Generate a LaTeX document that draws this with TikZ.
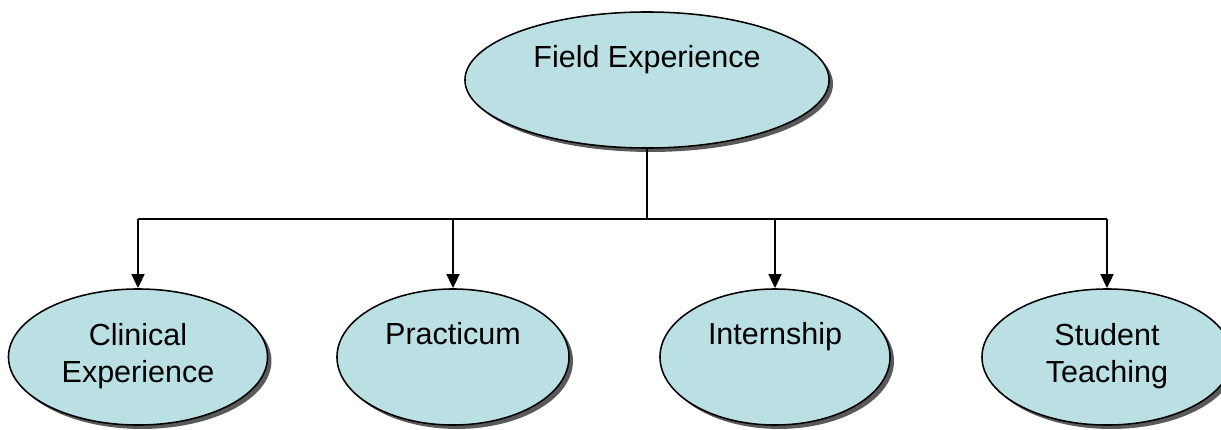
\documentclass[tikz,border=0pt]{standalone}
\usepackage{fontspec}
\setmainfont{Liberation Sans}
\usepackage{tikz}
\usetikzlibrary{arrows.meta,positioning,shadows,shapes.geometric,calc}
\definecolor{ovalfill}{RGB}{187,224,227}
\definecolor{ovalshadow}{RGB}{90,90,90}

\tikzset{
  oval/.style={ellipse,draw=black,line width=1.1pt,fill=ovalfill,minimum height=3.4cm,
    drop shadow={shadow xshift=2.8pt,shadow yshift=-2.8pt,fill=ovalshadow,opacity=1}},
  ovaltext/.style={align=center,font=\fontsize{21.7}{26.5}\selectfont},
  link/.style={line width=1.9pt},
  arr/.style={link,-{Triangle[length=10pt,width=9pt]}}
}

\begin{document}
\begin{tikzpicture}[x=0.025cm,y=0.025cm]
\useasboundingbox (0,0) rectangle (1221,429);
% top oval
\node[oval,minimum width=9.1cm] (fe) at (647,349) {};
\node[ovaltext,anchor=base] (fetxt) at (647,361) {Field Experience};
% bottom ovals
\node[oval,minimum width=6.475cm] (ce) at (138,72) {};
\node[oval,minimum width=5.8cm] (pr) at (453,72) {};
\node[oval,minimum width=5.75cm] (in) at (775,72) {};
\node[oval,minimum width=6.25cm] (st) at (1107,72) {};
\node[ovaltext] (cetxt) at (138,73) {Clinical\\Experience};
\node[ovaltext,anchor=base] (prtxt) at (453,85) {Practicum};
\node[ovaltext,anchor=base] (intxt) at (775,85) {Internship};
\node[ovaltext] (sttxt) at (1107,73) {Student\\Teaching};
% connectors
\coordinate (bus) at (647,210);
\draw[link] (fe.south) -- (bus);
\draw[link] (ce.north |- bus) -- (st.north |- bus);
\draw[arr] (ce.north |- bus) -- (ce.north);
\draw[arr] (pr.north |- bus) -- (pr.north);
\draw[arr] (in.north |- bus) -- (in.north);
\draw[arr] (st.north |- bus) -- (st.north);
\end{tikzpicture}
\end{document}
